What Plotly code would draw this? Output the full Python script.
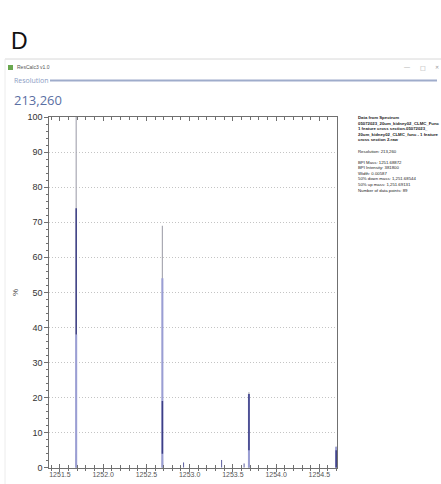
import plotly.graph_objects as go

# ---------------- data ----------------
peak_mz = [1251.688, 1252.685, 1253.686, 1254.695]
profile_top = [100, 69, 21.5, 6]        # grey profile height (%)
blue_top = [38, 54, 21, 6]              # light-blue part height (%)
navy_low = [38, 4, 5, 0]                # dark part lower end (%)
navy_high = [74, 19, 21, 5]             # dark part upper end (%)
base_height = [4, 5, 4, 2]              # small base hump (%)

minor_mz = [1252.93, 1253.37, 1253.63]
minor_h = [1.5, 2.2, 1.2]

x_ticks = [1251.5, 1252.0, 1252.5, 1253.0, 1253.5, 1254.0, 1254.5]
y_ticks = [0, 10, 20, 30, 40, 50, 60, 70, 80, 90, 100]

info_lines = [
    "<b>Data from Spectrum</b>",
    "<b>05072023_20um_kidney02_CLMC_Func</b>",
    "<b>1 feature cross section.05072023_</b>",
    "<b>20um_kidney02_CLMC_func - 1 feature</b>",
    "<b>cross section 2.raw</b>",
    "",
    "Resolution: 213,260",
    "",
    "BPI Mass: 1251.68872",
    "BPI Intensity: 381800",
    "Width: 0.00587",
    "50% down mass: 1,251.68544",
    "50% up mass: 1,251.69131",
    "Number of data points: 89",
]

W, H = 441, 484
x0, x1 = 1251.377, 1254.708


def sticks(xs, lows, highs):
    X, Y = [], []
    for x, lo, hi in zip(xs, lows, highs):
        X += [x, x, None]
        Y += [lo, hi, None]
    return X, Y


fig = go.Figure()

# base humps
bx, by = [], []
for m, h in zip(peak_mz, base_height):
    bx += [m - 0.006, m, m + 0.006, None]
    by += [0, h, 0, None]
fig.add_trace(go.Scatter(x=bx, y=by, mode="lines", line=dict(color="#c4c4cc", width=1),
                         fill="toself", fillcolor="rgba(196,196,204,0.6)", hoverinfo="skip"))

X, Y = sticks(peak_mz, [0] * 4, profile_top)
fig.add_trace(go.Scatter(x=X, y=Y, mode="lines", line=dict(color="#a9a9b3", width=1.2)))
X, Y = sticks(peak_mz, [0] * 4, blue_top)
fig.add_trace(go.Scatter(x=X, y=Y, mode="lines", line=dict(color="#9a9ed4", width=2)))
X, Y = sticks(peak_mz, navy_low, navy_high)
fig.add_trace(go.Scatter(x=X, y=Y, mode="lines", line=dict(color="#3d3f86", width=1.5)))
X, Y = sticks(minor_mz, [0] * 3, minor_h)
fig.add_trace(go.Scatter(x=X, y=Y, mode="lines", line=dict(color="#5a5d9e", width=1)))

# bottom crossing ticks (outer half)
fig.add_trace(go.Scatter(x=[x0], y=[0], xaxis="x2", mode="markers",
                         marker=dict(opacity=0), hoverinfo="skip"))

axis_col = "#707070"
fig.update_layout(
    width=W, height=H,
    margin=dict(l=0, r=0, t=0, b=0, autoexpand=False),
    paper_bgcolor="white", plot_bgcolor="white",
    showlegend=False,
    hovermode=False,
    xaxis=dict(domain=[49.3 / W, 337.3 / W], range=[x0, x1], automargin=False,
               tickvals=x_ticks, ticktext=[f"{v:.1f}" for v in x_ticks],
               ticks="inside", ticklen=4, tickcolor=axis_col, tickwidth=1,
               minor=dict(ticks="inside", dtick=0.1, tick0=1251.5, ticklen=3, tickcolor=axis_col),
               showline=True, linecolor=axis_col, linewidth=1, mirror="ticks",
               showgrid=False, zeroline=False, showspikes=False,
               tickfont=dict(family="Liberation Sans", size=7, color="#555")),
    xaxis2=dict(overlaying="x", range=[x0, x1], anchor="y", side="bottom", automargin=False,
                tickvals=x_ticks, ticks="outside", ticklen=3, tickcolor=axis_col,
                minor=dict(ticks="outside", dtick=0.1, tick0=1251.5, ticklen=2, tickcolor=axis_col),
                showticklabels=False, showgrid=False, zeroline=False, showline=False,
                domain=[49.3 / W, 337.3 / W]),
    yaxis=dict(domain=[1 - 467.7 / H, 1 - 117 / H], range=[0, 100], automargin=False,
               tickvals=y_ticks, ticks="outside", ticklen=4, tickcolor=axis_col,
               minor=dict(ticks="outside", dtick=2, ticklen=2, tickcolor=axis_col),
               showline=True, linecolor=axis_col, linewidth=1, mirror=True,
               showgrid=True, gridcolor="#c4c4c4", griddash="1px,2px", gridwidth=1,
               zeroline=False, showspikes=False,
               tickfont=dict(family="Liberation Sans", size=9, color="#333")),
)

shapes = [
    # window top border
    dict(type="line", xref="paper", yref="paper", x0=5 / W, x1=1, y0=1 - 59 / H, y1=1 - 59 / H,
         line=dict(color="#d8d8d8", width=1)),
    # window left border
    dict(type="line", xref="paper", yref="paper", x0=5 / W, x1=5 / W, y0=0, y1=1 - 59 / H,
         line=dict(color="#ececec", width=1)),
    # Resolution rule
    dict(type="line", xref="paper", yref="paper", x0=50 / W, x1=437 / W, y0=1 - 80.5 / H, y1=1 - 80.5 / H,
         line=dict(color="#9faccb", width=2)),
    # app icon
    dict(type="rect", xref="paper", yref="paper", x0=8 / W, x1=13 / W, y0=1 - 70 / H, y1=1 - 65 / H,
         fillcolor="#6aa84f", line=dict(width=0)),
]

ann = [
    dict(text="D", x=9 / W, y=1 - 41 / H, xanchor="left", yanchor="middle",
         font=dict(family="Liberation Sans", size=23, color="#111")),
    dict(text="ResCalc3 v1.0", x=15 / W, y=1 - 67 / H, xanchor="left", yanchor="middle",
         font=dict(family="Liberation Sans", size=5, color="#555")),
    dict(text="—", x=407 / W, y=1 - 67 / H, xanchor="center", yanchor="middle",
         font=dict(family="Liberation Sans", size=6, color="#999")),
    dict(text="□", x=423 / W, y=1 - 67 / H, xanchor="center", yanchor="middle",
         font=dict(family="DejaVu Sans", size=6, color="#999")),
    dict(text="✕", x=437 / W, y=1 - 67 / H, xanchor="center", yanchor="middle",
         font=dict(family="DejaVu Sans", size=5, color="#999")),
    dict(text="Resolution", x=12 / W, y=1 - 80.5 / H, xanchor="left", yanchor="middle",
         font=dict(family="Open Sans", size=7, color="#8c9cc4")),
    dict(text="213,260", x=12 / W, y=1 - 100 / H, xanchor="left", yanchor="middle",
         font=dict(family="Open Sans", size=13, color="#5b6fa3")),
    dict(text="%", x=15 / W, y=1 - 293 / H, xanchor="center", yanchor="middle", textangle=-90,
         font=dict(family="Liberation Sans", size=8, color="#444")),
    dict(text="<br>".join(info_lines), x=356 / W, y=1 - 113 / H, xanchor="left", yanchor="top",
         align="left", font=dict(family="Liberation Sans", size=4.3, color="#222")),
]
for a in ann:
    a.update(xref="paper", yref="paper", showarrow=False)

fig.update_layout(shapes=shapes, annotations=ann)

fig.write_html("out.html", config={"displayModeBar": False, "staticPlot": True},
               post_script="document.body.style.margin='0';")
